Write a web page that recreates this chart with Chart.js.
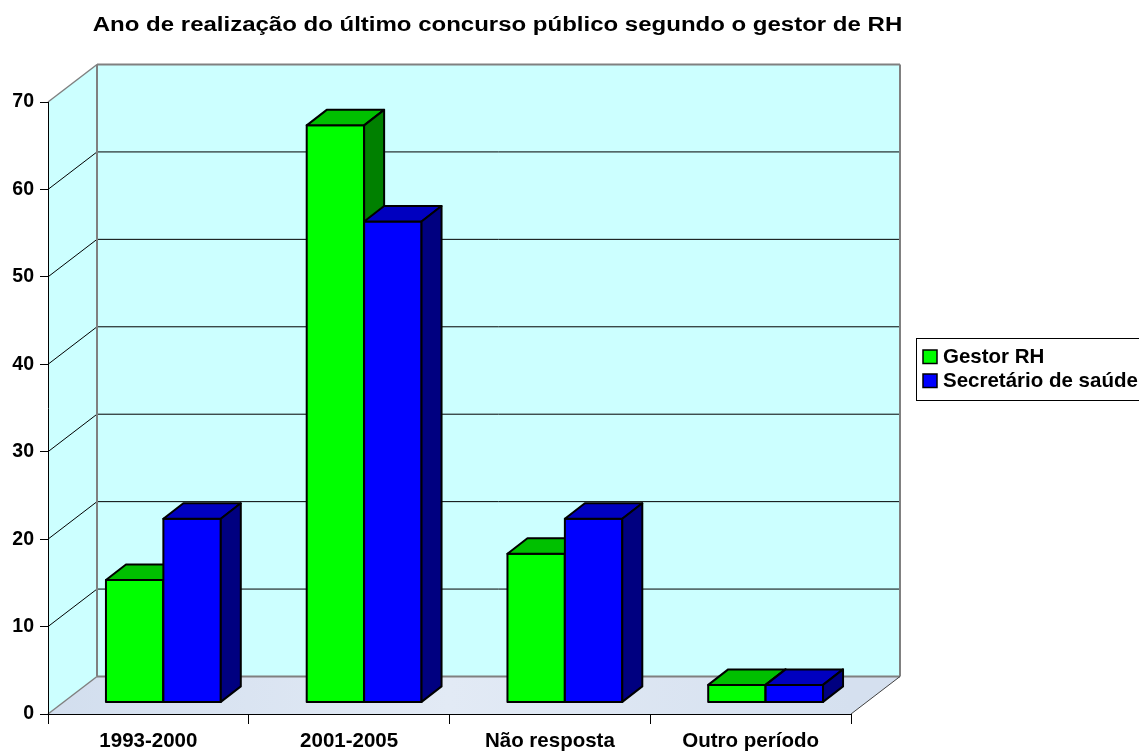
<!DOCTYPE html>
<html>
<head>
<meta charset="utf-8">
<script src="https://cdn.jsdelivr.net/npm/chart.js@4.4.0/dist/chart.umd.min.js"></script>
<style>
  html, body { margin: 0; padding: 0; background: #ffffff; }
</style>
</head>
<body>
<canvas id="chart" width="1139" height="751"></canvas>
<script>
// data
const categories = ['1993-2000', '2001-2005', 'Não resposta', 'Outro período'];
const gestorRH = [14, 66, 17, 2];
const secretarioSaude = [21, 55, 21, 2];
const seriesNames = ['Gestor RH', 'Secretário de saúde'];
const titleText = 'Ano de realização do último concurso público segundo o gestor de RH';

const FONT = "'Liberation Sans', Arial, sans-serif";

// colours per series: front, top, side
const faces = [
    { front: '#00ff00', top: '#00c000', side: '#008000' },
    { front: '#0000ff', top: '#0000c0', side: '#000080' }
];

// depth of the whole box and of the bars
const DEPTH = { dx: 49, dy: -37.5 };
const BAR_SHIFT = { dx: 15, dy: -11.6 };
const BAR_DEPTH = { dx: 20, dy: -15.5 };

function poly(ctx, pts, fill, stroke, lw) {
    ctx.beginPath();
    ctx.moveTo(pts[0][0], pts[0][1]);
    for (let i = 1; i < pts.length; i++) ctx.lineTo(pts[i][0], pts[i][1]);
    ctx.closePath();
    if (fill) { ctx.fillStyle = fill; ctx.fill(); }
    if (stroke) { ctx.strokeStyle = stroke; ctx.lineWidth = lw || 1; ctx.stroke(); }
}

function line(ctx, x1, y1, x2, y2, color, lw) {
    ctx.beginPath();
    ctx.moveTo(x1, y1);
    ctx.lineTo(x2, y2);
    ctx.strokeStyle = color;
    ctx.lineWidth = lw || 1;
    ctx.stroke();
}

const threeD = {
    id: 'threeD',
    beforeDraw(chart) {
        const ctx = chart.ctx;
        const a = chart.chartArea;
        const ys = chart.scales.y;
        const L = a.left, R = a.right, T = ys.getPixelForValue(70), B = ys.getPixelForValue(0);
        const dx = DEPTH.dx, dy = DEPTH.dy;
        ctx.save();
        // left wall
        poly(ctx, [[L, B], [L, T], [L + dx, T + dy], [L + dx, B + dy]], '#ccffff');
        // back wall
        poly(ctx, [[L + dx, T + dy], [R + dx, T + dy], [R + dx, B + dy], [L + dx, B + dy]], '#ccffff');
        // floor
        const floorGrad = ctx.createLinearGradient(L, B + dy, R, B);
        floorGrad.addColorStop(0, '#d2deee');
        floorGrad.addColorStop(0.5, '#e2eaf5');
        floorGrad.addColorStop(1, '#d5e0ef');
        poly(ctx, [[L, B], [R, B], [R + dx, B + dy], [L + dx, B + dy]], floorGrad);

        // grid lines on the walls
        ys.ticks.forEach(t => {
            if (t.value <= 0 || t.value >= 70) return;
            const y = ys.getPixelForValue(t.value);
            line(ctx, L, y, L + dx, y + dy, '#000000', 1);
            line(ctx, L + dx, y + dy, R + dx, y + dy, '#000000', 1);
        });

        // box edges
        line(ctx, L, T, L + dx, T + dy, '#808080', 1.5);
        line(ctx, L + dx, T + dy, R + dx, T + dy, '#808080', 2);
        line(ctx, R + dx, T + dy, R + dx, B + dy, '#808080', 2);
        line(ctx, L + dx, T + dy, L + dx, B + dy, '#808080', 2);
        line(ctx, L + dx, B + dy, R + dx, B + dy, '#808080', 2);
        line(ctx, L, B, L + dx, B + dy, '#808080', 1.5);
        line(ctx, R, B, R + dx, B + dy, '#404040', 1);
        ctx.restore();
    },
    afterDatasetsDraw(chart) {
        const ctx = chart.ctx;
        ctx.save();
        ctx.lineJoin = 'round';
        const metas = chart.data.datasets.map((d, i) => chart.getDatasetMeta(i));
        categories.forEach((c, i) => {
            metas.forEach((meta, d) => {
                const el = meta.data[i];
                const w = el.width;
                const l = el.x - w / 2 + BAR_SHIFT.dx;
                const r = el.x + w / 2 + BAR_SHIFT.dx;
                const t = el.y + BAR_SHIFT.dy;
                const b = el.base + BAR_SHIFT.dy;
                const ex = BAR_DEPTH.dx, ey = BAR_DEPTH.dy;
                const f = faces[d];
                poly(ctx, [[l, b], [l, t], [r, t], [r, b]], f.front, '#000000', 2);
                poly(ctx, [[l, t], [l + ex, t + ey], [r + ex, t + ey], [r, t]], f.top, '#000000', 2);
                poly(ctx, [[r, t], [r + ex, t + ey], [r + ex, b + ey], [r, b]], f.side, '#000000', 2);
            });
        });
        ctx.restore();
    },
    afterDraw(chart) {
        const ctx = chart.ctx;
        ctx.save();
        // title (slightly widened, as in the original)
        ctx.fillStyle = '#000000';
        ctx.font = 'bold 20px ' + FONT;
        ctx.textAlign = 'center';
        ctx.textBaseline = 'alphabetic';
        ctx.save();
        ctx.translate(497.5, 31);
        ctx.scale(1.2, 1);
        ctx.fillText(titleText, 0, 0);
        ctx.restore();

        // legend box
        const lx = 916, ly = 338.5;
        ctx.fillStyle = '#ffffff';
        ctx.fillRect(lx, ly, 240, 62);
        ctx.strokeStyle = '#000000';
        ctx.lineWidth = 1;
        ctx.strokeRect(lx + 0.5, ly, 240, 62);
        ctx.textAlign = 'left';
        chart.data.datasets.forEach((ds, i) => {
            const y = 350 + i * 24;
            ctx.fillStyle = faces[i].front;
            ctx.fillRect(923, y, 14, 13.5);
            ctx.strokeStyle = '#000000';
            ctx.lineWidth = 1.5;
            ctx.strokeRect(923, y, 14, 13.5);
            ctx.fillStyle = '#000000';
            ctx.font = 'bold 20.5px ' + FONT;
            ctx.fillText(ds.label, 943, y + 13);
        });
        ctx.restore();
    }
};

new Chart(document.getElementById('chart').getContext('2d'), {
    type: 'bar',
    data: {
        labels: categories,
        datasets: [
            { label: seriesNames[0], data: gestorRH, backgroundColor: 'rgba(0,0,0,0)', borderWidth: 0 },
            { label: seriesNames[1], data: secretarioSaude, backgroundColor: 'rgba(0,0,0,0)', borderWidth: 0 }
        ]
    },
    options: {
        responsive: false,
        animation: false,
        categoryPercentage: 0.572,
        barPercentage: 1,
        layout: { padding: { top: 102, right: 288, left: 0, bottom: 0 } },
        plugins: {
            legend: { display: false },
            title: { display: false },
            tooltip: { enabled: false }
        },
        scales: {
            x: {
                afterFit(scale) { scale.height = 37; },
                grid: { drawOnChartArea: false, tickLength: 10, color: '#000000' },
                border: { color: '#000000', width: 1 },
                ticks: { color: '#000000', padding: 5, maxRotation: 0, font: { family: FONT, size: 20.5, weight: 'bold' } }
            },
            y: {
                min: 0,
                max: 70,
                afterFit(scale) { scale.width = 48; },
                grid: { drawOnChartArea: false, tickLength: 8, color: '#000000' },
                border: { color: '#000000', width: 1 },
                ticks: { stepSize: 10, color: '#000000', padding: 6, font: { family: FONT, size: 19.5, weight: 'bold' } }
            }
        }
    },
    plugins: [threeD]
});
</script>
</body>
</html>
